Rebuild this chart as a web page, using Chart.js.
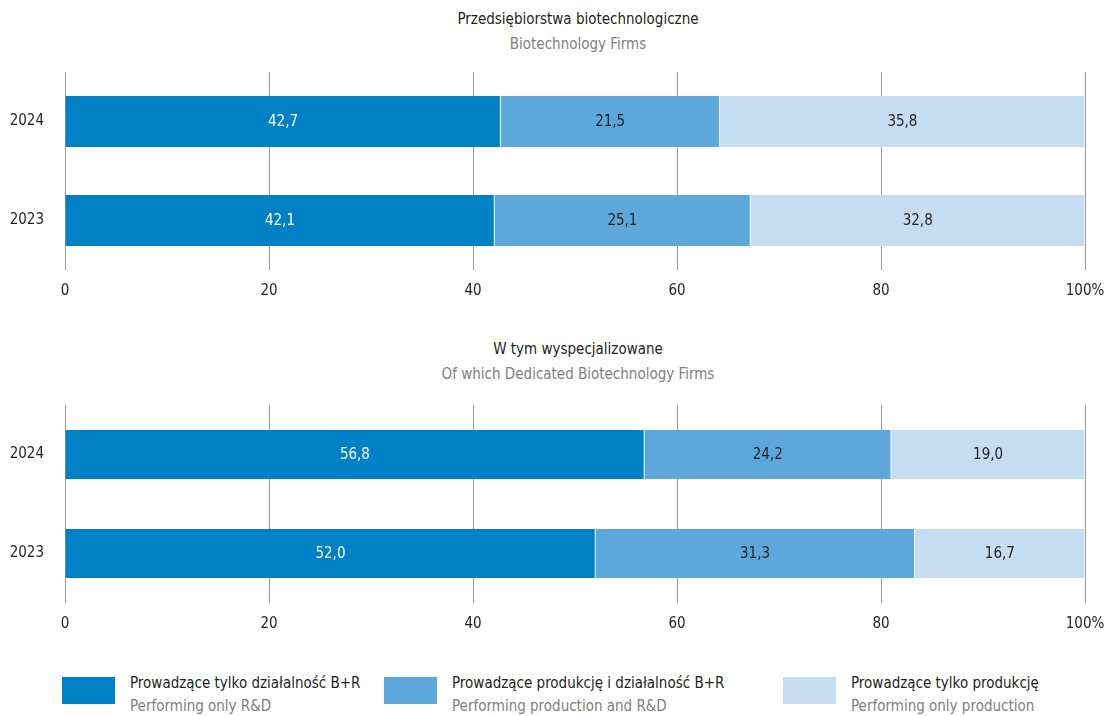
<!DOCTYPE html>
<html>
<head>
<meta charset="utf-8">
<script src="https://cdn.jsdelivr.net/npm/chart.js@4.4.1/dist/chart.umd.min.js"></script>
<style>
  body { margin: 0; background: #fff; width: 1111px; height: 716px; overflow: hidden; position: relative;
         font-family: 'Liberation Sans Narrow', 'DejaVu Sans Condensed', sans-serif; }
  .ttl { position: absolute; left: 0; width: 1156px; text-align: center; font-size: 15px; line-height: 25px; }
  .ttl .pl { color: #231f20; }
  .ttl .en { color: #808080; }
  .box { position: absolute; left: 0; width: 1111px; height: 250px; }
  .leg { position: absolute; top: 672px; font-size: 15px; line-height: 23px; }
  .leg .sw { position: absolute; left: 0; top: 5px; width: 53px; height: 27px; }
  .leg .pl { position: absolute; left: 68px; top: 0; white-space: nowrap; color: #231f20; }
  .leg .en { position: absolute; left: 68px; top: 23px; white-space: nowrap; color: #808080; }
</style>
</head>
<body>
<div class="ttl" style="top:7px"><div class="pl">Przedsiębiorstwa biotechnologiczne</div><div class="en">Biotechnology Firms</div></div>
<div class="box" style="top:62px"><canvas id="c1"></canvas></div>
<div class="ttl" style="top:337px"><div class="pl">W tym wyspecjalizowane</div><div class="en">Of which Dedicated Biotechnology Firms</div></div>
<div class="box" style="top:395px"><canvas id="c2"></canvas></div>
<div id="legend"></div>
<script>
var years = ['2024', '2023'];
var seriesPl = ['Prowadzące tylko działalność B+R', 'Prowadzące produkcję i działalność B+R', 'Prowadzące tylko produkcję'];
var seriesEn = ['Performing only R&D', 'Performing production and R&D', 'Performing only production'];
var colors = ['#0081c6', '#5da8db', '#c6dcf0'];
var labelColors = ['#ffffff', '#231f20', '#231f20'];

// Przedsiębiorstwa biotechnologiczne
var allOnlyRD = [42.7, 42.1];
var allProdRD = [21.5, 25.1];
var allOnlyProd = [35.8, 32.8];

// W tym wyspecjalizowane
var dbfOnlyRD = [56.8, 52.0];
var dbfProdRD = [24.2, 31.3];
var dbfOnlyProd = [19.0, 16.7];

var xTicks = [0, 20, 40, 60, 80, 100];

var FONT = "'Liberation Sans Narrow', 'DejaVu Sans Condensed', sans-serif";

var valueLabels = {
    id: 'valueLabels',
    afterDatasetsDraw: function (chart) {
        var ctx = chart.ctx;
        ctx.save();
        ctx.font = '15px ' + FONT;
        ctx.textAlign = 'center';
        ctx.textBaseline = 'middle';
        chart.data.datasets.forEach(function (ds, i) {
            chart.getDatasetMeta(i).data.forEach(function (bar, j) {
                var cx = (bar.x + bar.base) / 2;
                ctx.fillStyle = labelColors[i];
                ctx.fillText(ds.data[j].toFixed(1).replace('.', ','), cx, bar.y + 1);
            });
        });
        ctx.restore();
    }
};

function makeChart(id, values, thick) {
    var datasets = values.map(function (v, i) {
        return {
            label: seriesPl[i],
            data: v,
            backgroundColor: colors[i],
            borderColor: 'rgba(255,255,255,0.7)',
            borderWidth: { left: 0, right: 1, top: 0, bottom: 0 },
            borderSkipped: false,
            barThickness: thick
        };
    });
    return new Chart(document.getElementById(id), {
        type: 'bar',
        data: { labels: years, datasets: datasets },
        plugins: [valueLabels],
        options: {
            indexAxis: 'y',
            responsive: true,
            maintainAspectRatio: false,
            animation: false,
            layout: { padding: { top: 10, right: 26, left: 0, bottom: 0 } },
            plugins: { legend: { display: false }, tooltip: { enabled: false } },
            scales: {
                x: {
                    stacked: true,
                    min: 0,
                    max: 100,
                    afterBuildTicks: function (s) { s.ticks = xTicks.map(function (v) { return { value: v }; }); },
                    afterFit: function (s) { s.height = 42; s.paddingLeft = 0; s.paddingRight = 0; },
                    border: { display: false },
                    grid: { color: '#9a9a9a', lineWidth: 1, drawTicks: false },
                    ticks: {
                        padding: 12,
                        color: '#231f20',
                        font: { family: FONT, size: 15 },
                        maxRotation: 0,
                        callback: function (v) { return v === 100 ? '100%' : v; }
                    }
                },
                y: {
                    stacked: true,
                    afterFit: function (s) { s.width = 65; s.paddingTop = 0; s.paddingBottom = 0; },
                    border: { display: false },
                    grid: { display: false, drawTicks: false },
                    ticks: { padding: 21, color: '#231f20', font: { family: FONT, size: 15 } }
                }
            }
        }
    });
}

makeChart('c1', [allOnlyRD, allProdRD, allOnlyProd], 51);
makeChart('c2', [dbfOnlyRD, dbfProdRD, dbfOnlyProd], 49);

var legX = [62, 384, 783];
var legend = document.getElementById('legend');
seriesPl.forEach(function (name, i) {
    var d = document.createElement('div');
    d.className = 'leg';
    d.style.left = legX[i] + 'px';
    d.innerHTML = '<div class="sw" style="background:' + colors[i] + '"></div>' +
        '<div class="pl"></div><div class="en"></div>';
    d.querySelector('.pl').textContent = name;
    d.querySelector('.en').textContent = seriesEn[i];
    legend.appendChild(d);
});
</script>
</body>
</html>
